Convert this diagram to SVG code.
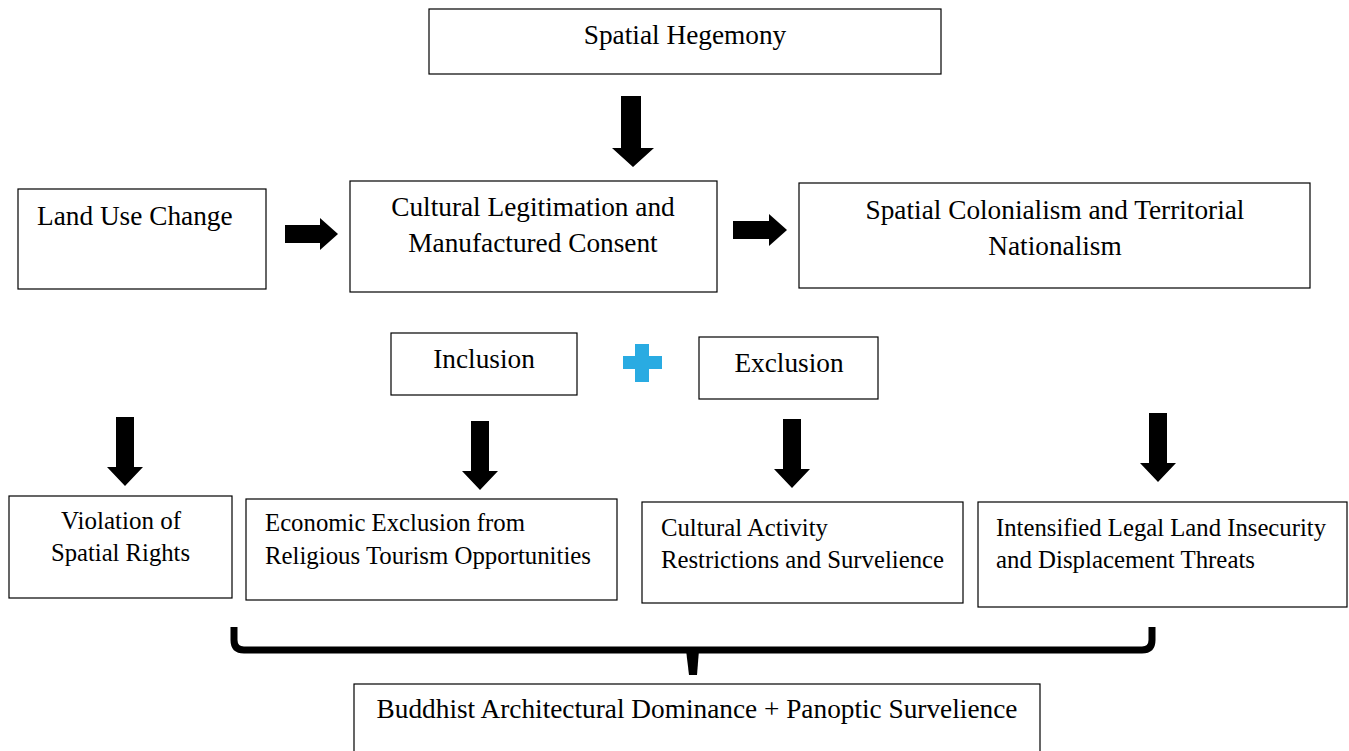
<svg xmlns="http://www.w3.org/2000/svg" width="1349" height="751" viewBox="0 0 1349 751">
<style>
.box{fill:#fff;stroke:#000;stroke-width:1.2}
.t{font-family:"Liberation Serif","Times New Roman",serif;font-size:27.3px;fill:#000}
.s{font-size:25px}
.c{text-anchor:middle}
.arr{fill:#000}
</style>
<defs>
<path id="dn" d="M-9,0 H9 V50 H18 L0,69 L-18,50 H-9 Z"/>
</defs>
<rect width="1349" height="751" fill="#fff"/>
<g id="n-hegemony"><rect class="box" x="429" y="9" width="512" height="65"/><text class="t c" x="685" y="44">Spatial Hegemony</text></g>
<g id="n-landuse"><rect class="box" x="18" y="189" width="248" height="100"/><text class="t" x="37" y="225">Land Use Change</text></g>
<g id="n-legit"><rect class="box" x="350" y="181" width="367" height="111"/><text class="t c" x="533" y="216">Cultural Legitimation and</text><text class="t c" x="533" y="252">Manufactured Consent</text></g>
<g id="n-colonial"><rect class="box" x="799" y="183" width="511" height="105"/><text class="t c" x="1055" y="219">Spatial Colonialism and Territorial</text><text class="t c" x="1055" y="255">Nationalism</text></g>
<g id="n-inclusion"><rect class="box" x="391" y="333" width="186" height="62"/><text class="t c" x="484" y="368">Inclusion</text></g>
<g id="n-plus"><path d="M635,344 H649 V356 H662 V369 H649 V382 H635 V369 H623 V356 H635 Z" fill="#29abe2"/></g>
<g id="n-exclusion"><rect class="box" x="699" y="337" width="179" height="62"/><text class="t c" x="789" y="372">Exclusion</text></g>
<g id="n-violation"><rect class="box" x="9" y="496" width="223" height="102"/><text class="t s" x="61" y="529" textLength="120" lengthAdjust="spacingAndGlyphs">Violation of</text><text class="t s" x="51" y="561" textLength="139" lengthAdjust="spacingAndGlyphs">Spatial Rights</text></g>
<g id="n-economic"><rect class="box" x="246" y="499" width="371" height="101"/><text class="t s" x="265" y="531" textLength="260" lengthAdjust="spacingAndGlyphs">Economic Exclusion from</text><text class="t s" x="265" y="564" textLength="326" lengthAdjust="spacingAndGlyphs">Religious Tourism Opportunities</text></g>
<g id="n-cultural"><rect class="box" x="642" y="502" width="321" height="101"/><text class="t s" x="661" y="536" textLength="167" lengthAdjust="spacingAndGlyphs">Cultural Activity</text><text class="t s" x="661" y="568" textLength="283" lengthAdjust="spacingAndGlyphs">Restrictions and Survelience</text></g>
<g id="n-legal"><rect class="box" x="978" y="502" width="369" height="105"/><text class="t s" x="996" y="536" textLength="330" lengthAdjust="spacingAndGlyphs">Intensified Legal Land Insecurity</text><text class="t s" x="996" y="568" textLength="259" lengthAdjust="spacingAndGlyphs">and Displacement Threats</text></g>
<g id="n-bottom"><rect class="box" x="354" y="684" width="686" height="80"/><text class="t c" x="697" y="718">Buddhist Architectural Dominance + Panoptic Survelience</text></g>
<g id="connectors">
<path class="arr" d="M621,96 H641 V148 H654 L633,167 L612,148 H621 Z"/>
<path class="arr" d="M285,225 H320 V218 L338,234 L320,250 V243 H285 Z"/>
<path class="arr" d="M733,221 H769 V214 L787,230 L769,246 V239 H733 Z"/>
<use href="#dn" class="arr" transform="translate(125,417)"/>
<use href="#dn" class="arr" transform="translate(480,421)"/>
<use href="#dn" class="arr" transform="translate(792,419)"/>
<use href="#dn" class="arr" transform="translate(1158,413)"/>
<path d="M234,627 V640 Q234,650 244,650 H1142 Q1152,650 1152,640 V627" fill="none" stroke="#000" stroke-width="7"/>
<path d="M686,650 H699 L697,675 H689 Z" fill="#000"/>
</g>
</svg>
